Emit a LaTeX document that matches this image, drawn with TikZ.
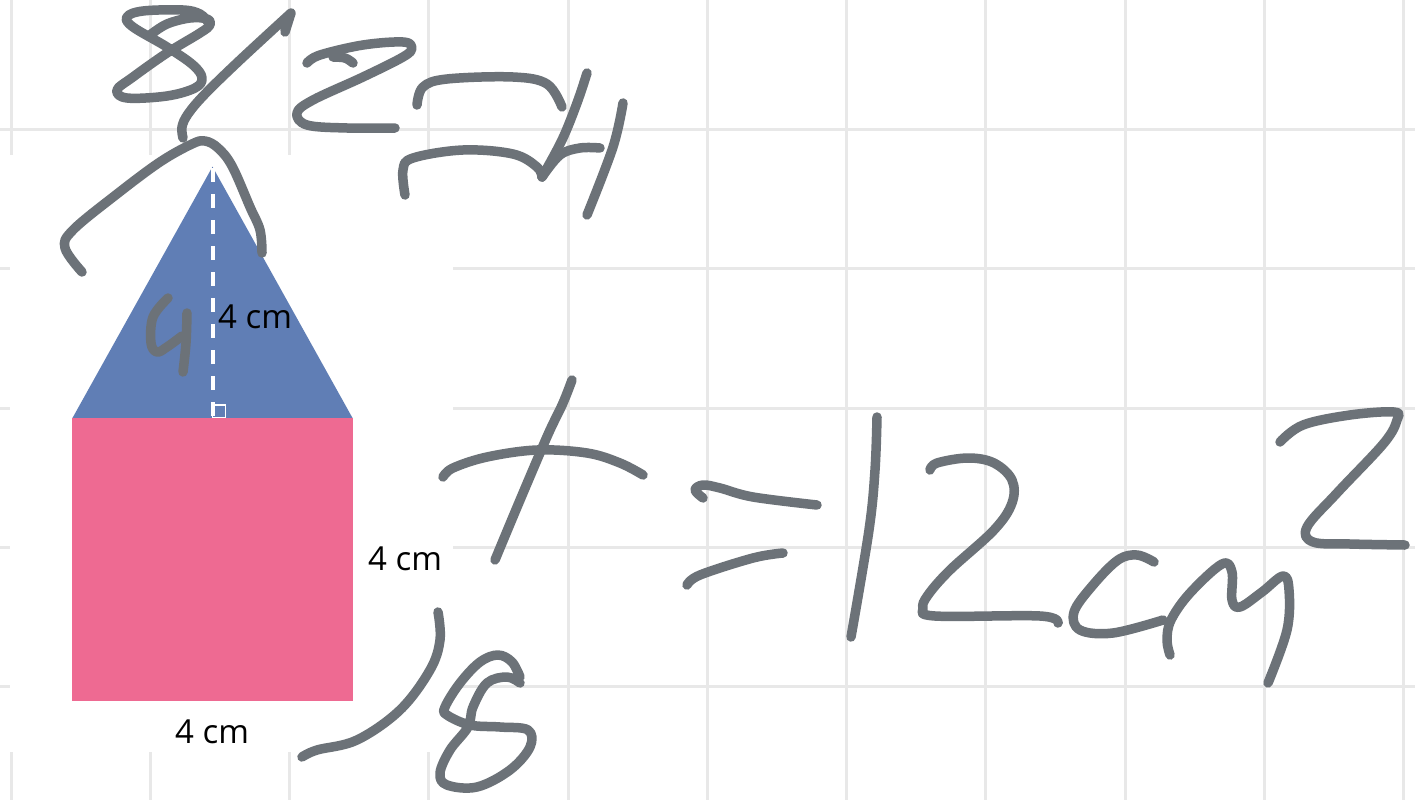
\documentclass[tikz,border=0pt]{standalone}
\usepackage{fontspec}
\setmainfont{Open Sans}
\definecolor{gridc}{RGB}{232,232,232}
\definecolor{inkc}{RGB}{108,114,120}
\definecolor{triblue}{RGB}{96,126,181}
\definecolor{sqpink}{RGB}{238,106,146}
\tikzset{
  gridline/.style={draw=gridc, line width=3pt},
  ink/.style={draw=inkc, line width=9.5pt, line cap=round, line join=round},
  lbl/.style={inner sep=0pt, anchor=base west, font=\fontsize{33}{33}\selectfont},
  sm/.style={smooth, tension=0.6}
}
\begin{document}
\begin{tikzpicture}[x=1pt,y=-1pt]
\useasboundingbox (0,0) rectangle (1415,800);
\fill[white] (0,0) rectangle (1415,800);
% grid
\foreach \i in {0,...,10} \draw[gridline] ({11+139.25*\i},0) -- ({11+139.25*\i},800);
\foreach \j in {0,...,4} \draw[gridline] (0,{129.5+139.25*\j}) -- (1415,{129.5+139.25*\j});
\fill[white] (10,155) rectangle (453,752);
% shapes
\fill[triblue] (72.3,418.3) -- (212.5,166.7) -- (352.7,418.3) -- cycle;
\fill[sqpink] (72.3,418.3) rectangle (352.7,700.7);
\draw[white, line width=4pt, dash pattern=on 14pt off 12pt] (212.5,168) -- (212.5,418);
\draw[white, line width=1.5pt] (212.5,405) rectangle (225.5,417.5);
% labels
\node[lbl] (ht) at (218,328.3) {4 cm};
\node[lbl] (sd) at (368,570.7) {4 cm};
\node[lbl] (bs) at (175,743.3) {4 cm};
% handwriting: top 8
\draw[ink] plot[sm] coordinates {(150,35) (167,24) (190,18) (207,19) (210,25) (200,33) (167,53) (133,77) (117,90) (127,98) (167,96) (195,88) (202,78) (193,65) (167,47) (133,27) (127,17) (143,11) (183,10) (200,14) (208,22)};
% slash with hook
\draw[ink] plot[sm] coordinates {(183,138) (182,127) (188,114) (205,94) (240,60) (291,13)} -- (285,32);
% arc over apex
\draw[ink] plot[sm] coordinates {(82,272) (65,248) (73,230) (117,194) (160,162) (192,144) (205,141) (218,148) (232,166) (250,207) (260,230) (262,253)};
% Z
\draw[ink] plot[sm] coordinates {(307,63) (320,55) (363,45) (403,42) (412,48) (403,57) (363,77) (313,100) (297,113) (307,125) (347,128) (395,128)};
\draw[ink] plot[sm] coordinates {(333,57) (345,58) (353,63)};
% brackets
\draw[ink] plot[sm] coordinates {(417,105) (423,87) (447,79) (513,77) (547,84) (562,107)};
\draw[ink] plot[sm] coordinates {(405,195) (403,170) (413,158) (463,150) (513,154) (537,167) (542,177)};
% 4 (top right)
\draw[ink] plot[sm] coordinates {(587,73) (577,103) (562,140) (542,177)};
\draw[ink] plot[sm] coordinates {(542,177) (560,155) (580,148) (600,148)};
\draw[ink] plot[sm] coordinates {(623,103) (613,147) (587,215)};
% 4 in triangle
\draw[ink] plot[sm] coordinates {(168,298) (153,317) (151,343) (157,352) (167,347) (182,336)};
\draw[ink] plot[sm] coordinates {(187,313) (186,343) (183,372)};
% A
\draw[ink] plot[sm] coordinates {(572,380) (563,403) (550,430) (537,460) (515,512) (495,560)};
\draw[ink] plot[sm] coordinates {(443,477) (453,468) (487,457) (537,450) (587,453) (620,463) (643,475)};
% =
\draw[ink] plot[sm] coordinates {(703,498) (695,490) (703,485) (720,488) (753,497) (817,505)};
\draw[ink] plot[sm] coordinates {(687,585) (700,575) (753,558) (783,553)};
% 1
\draw[ink] plot[sm] coordinates {(877,417) (875,470) (869,530) (851,637)};
% 2
\draw[ink] plot[sm] coordinates {(930,470) (937,463) (968,458) (994,463) (1012,480) (1012,503) (994,530) (950,570) (928,595) (923,608) (935,616) (1040,616) (1058,623)};
% c
\draw[ink] plot[sm] coordinates {(1154,562) (1137,555) (1118,560) (1093,585) (1074,612) (1080,630) (1113,633) (1163,620)};
% m
\draw[ink] plot[sm] coordinates {(1170,655) (1167,640) (1171,620) (1190,593) (1222,564) (1232,572) (1232,600) (1240,607) (1262,592) (1283,576) (1289,590) (1287,630) (1268,683)};
% superscript 2
\draw[ink] plot[sm] coordinates {(1280,442) (1303,425) (1350,415) (1394,412) (1397,420) (1384,443) (1337,493) (1307,527) (1313,542) (1350,544) (1405,545)};
% bottom slash
\draw[ink] plot[sm] coordinates {(438,612) (440,640) (430,670) (400,710) (357,740) (317,750) (302,757)};
% bottom 8
\draw[ink] plot[sm] coordinates {(520,683) (507,677) (487,683) (473,707) (468,727) (450,750) (440,773) (447,785) (477,787) (510,770) (530,747) (528,730) (500,727) (470,725) (447,715) (445,707) (460,683) (480,662) (498,655) (512,662) (520,677)};
\end{tikzpicture}
\end{document}
